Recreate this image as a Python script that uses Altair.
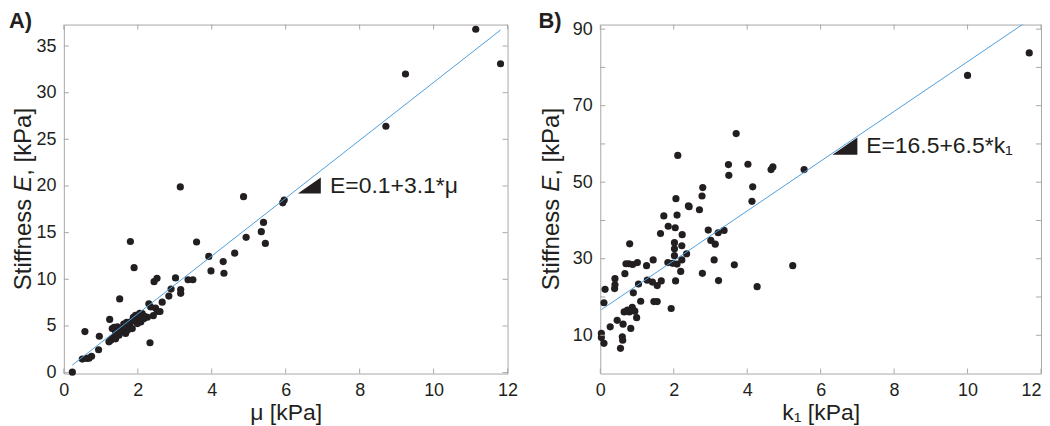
import altair as alt
import pandas as pd

# ---------------- data ----------------
mu = [0.23, 0.50, 0.62, 0.68, 0.75, 0.57, 0.94, 0.96, 1.24, 1.51, 1.80, 1.90, 2.33, 2.42,
      2.44, 2.52, 3.15, 3.02, 2.90, 2.84, 2.66, 3.16, 3.16, 3.36, 3.49, 3.59, 3.92, 3.98,
      4.31, 4.33, 4.62, 4.86, 4.93, 5.34, 5.40, 5.45, 5.92, 5.96, 8.71, 9.24, 11.14, 11.81,
      2.30, 2.35, 2.48, 2.53, 2.60, 2.12, 2.03, 1.94, 2.16, 2.08, 1.99, 1.90, 1.81, 1.76,
      1.85, 1.72, 1.67, 1.58, 1.54, 1.49, 1.40, 1.36, 1.31, 1.27, 1.22, 1.40, 1.31, 1.45,
      1.70, 1.88, 2.26, 2.05, 1.36, 1.40, 2.20, 1.62]
E_mu = [0.05, 1.45, 1.52, 1.55, 1.75, 4.40, 2.45, 3.90, 5.70, 7.90, 14.05, 11.25, 3.20, 6.10,
        9.75, 10.10, 19.90, 10.15, 8.95, 8.20, 7.55, 8.90, 8.50, 9.95, 9.95, 14.00, 12.45, 10.90,
        11.90, 10.65, 12.80, 18.85, 14.50, 15.10, 16.10, 13.85, 18.20, 18.50, 26.40, 32.00, 36.80, 33.10,
        7.38, 7.03, 6.92, 6.57, 6.55, 6.32, 5.96, 6.14, 5.78, 5.43, 5.25, 5.61, 5.43, 5.08,
        4.72, 4.55, 4.19, 4.72, 4.37, 4.01, 4.19, 3.83, 3.65, 3.48, 3.30, 4.55, 4.72, 4.90,
        5.40, 5.93, 5.93, 6.35, 4.86, 3.62, 6.00, 5.20]

k1 = [11.68, 10.00, 5.55, 5.24, 3.70, 4.02, 4.15, 4.13, 4.27, 4.65, 4.70, 3.49, 3.50, 3.37,
      3.21, 3.65, 3.22, 2.11, 2.79, 2.77, 2.70, 2.40, 2.42, 2.94, 3.01, 3.13, 3.10, 2.78,
      2.06, 2.09, 2.04, 2.23, 2.22, 2.02, 2.02, 2.02, 2.35, 2.22, 2.09, 1.97, 1.84, 2.05,
      2.19, 1.93, 1.73, 1.85, 1.64, 1.66, 1.55, 1.44, 1.26, 1.28, 1.42, 1.46, 1.55, 1.04,
      1.01, 0.88, 0.78, 0.70, 0.80, 0.67, 0.40, 0.40, 0.39, 0.13, 0.10, 0.90, 1.10, 0.99,
      0.94, 0.87, 0.79, 0.74, 0.65, 0.46, 0.27, 0.62, 0.83, 0.60, 0.61, 0.55, 0.03, 0.03, 0.10]
E_k1 = [83.8, 77.9, 53.3, 28.2, 62.7, 54.7, 48.8, 45.0, 22.7, 53.3, 54.0, 54.6, 51.8, 37.4,
        36.8, 28.4, 24.3, 57.0, 48.6, 46.4, 42.8, 43.8, 43.6, 37.5, 34.8, 33.8, 29.7, 26.2,
        45.7, 41.4, 38.1, 36.3, 33.4, 34.2, 32.6, 30.8, 31.3, 29.7, 28.6, 28.8, 29.0, 24.2,
        26.7, 17.0, 41.2, 38.5, 36.6, 24.2, 23.0, 29.7, 28.2, 24.4, 23.9, 18.8, 18.8, 23.4,
        29.0, 28.5, 28.7, 28.7, 33.9, 26.1, 24.8, 23.2, 22.2, 22.0, 18.5, 21.1, 18.9, 14.6,
        16.3, 17.3, 16.1, 16.6, 16.1, 13.9, 12.2, 12.9, 11.8, 9.6, 8.7, 6.6, 10.5, 9.4, 7.9]

fit_a = [0.1, 3.1]     # intercept, slope
fit_b = [16.5, 6.5]
eq_a = "E=0.1+3.1*μ"
eq_b = "E=16.5+6.5*k₁"
eq_pos_a = [7.2, 20.0]
eq_pos_b = [7.24, 59.4]
tri_a = [6.33, 6.95, 19.2, 20.9]   # x0, x1, y bottom, y top
tri_b = [6.32, 7.00, 57.2, 61.7]

x_ticks = [0, 2, 4, 6, 8, 10, 12]
ya_ticks = [0, 5, 10, 15, 20, 25, 30, 35]
yb_ticks = [10, 20, 30, 40, 50, 60, 70, 80, 90]
yb_labels = [10, 30, 50, 70, 90]

INK = "#231f20"
FRAME = "#a8a8a8"
LINE = "#4f9fdc"
FONT = "Liberation Sans"

# Arial advance widths (em) for title layout
ADV = {"S": .667, "t": .278, "i": .222, "f": .278, "n": .556, "e": .556, "s": .5, " ": .278,
       "E": .667, ",": .278, "[": .278, "k": .5, "P": .667, "a": .556, "]": .278}


def tw(s, fs):
    return sum(ADV.get(c, .556) for c in s) * fs


def panel(xs, ys, ydom, yticks, ylabels, fit, eq, eq_pos, tri, letter, xtitle,
          W, H, letter_x, ytitle_x, flush_last):
    xsc = alt.Scale(domain=[0, 12], nice=False, zero=False)
    ysc = alt.Scale(domain=ydom, nice=False, zero=False)
    xalign = (alt.condition("datum.value == 12", alt.value("right"), alt.value("center"))
              if flush_last else "center")
    xax = alt.Axis(values=x_ticks, ticks=False, tickSize=0, domain=False, grid=False,
                   labelFontSize=18, labelPadding=8, labelColor=INK, labelFlush=False,
                   labelAlign=xalign,
                   title=xtitle, titleFontSize=23, titleFontWeight="normal", titleColor=INK,
                   titlePadding=2, format="d")
    yax = alt.Axis(values=ylabels, ticks=False, tickSize=0, domain=False, grid=False,
                   labelFontSize=18, labelPadding=8, labelColor=INK, labelFlush=False,
                   title=None, format="d")

    def X(f="x"):
        return alt.X(f"{f}:Q", scale=xsc, axis=xax, title=xtitle)

    def Y(f="y"):
        return alt.Y(f"{f}:Q", scale=ysc, axis=yax, title=None)

    df = pd.DataFrame({"x": xs, "y": ys})
    pts = alt.Chart(df).mark_circle(size=52, color=INK, opacity=1).encode(x=X(), y=Y())

    x0, x1 = min(xs), max(xs)
    dl = pd.DataFrame({"x": [x0, x1], "y": [fit[0] + fit[1] * x0, fit[0] + fit[1] * x1]})
    line = alt.Chart(dl).mark_line(color=LINE, strokeWidth=1, clip=True).encode(x=X(), y=Y())

    dt = pd.DataFrame({"x": [tri[0], tri[1]], "y": [tri[2], tri[3]], "y2": [tri[2], tri[2]]})
    triangle = alt.Chart(dt).mark_area(color=INK, opacity=1).encode(
        x=X(), y=Y(), y2="y2:Q")

    de = pd.DataFrame({"x": [eq_pos[0]], "y": [eq_pos[1]], "t": [eq]})
    eqt = alt.Chart(de).mark_text(align="left", baseline="middle", fontSize=23, color=INK,
                                  font=FONT).encode(x=X(), y=Y(), text="t:N")

    dxt = pd.DataFrame({"x": x_ticks})
    dyt = pd.DataFrame({"y": yticks})
    tk = dict(color=FRAME, strokeWidth=1)
    t_bottom = alt.Chart(dxt).mark_rule(**tk).encode(
        x=X(), y=alt.value(H), y2=alt.value(H - 5))
    t_top = alt.Chart(dxt).mark_rule(**tk).encode(
        x=X(), y=alt.value(0), y2=alt.value(5))
    t_left = alt.Chart(dyt).mark_rule(**tk).encode(
        y=Y(), x=alt.value(0), x2=alt.value(5))
    t_right = alt.Chart(dyt).mark_rule(**tk).encode(
        y=Y(), x=alt.value(W), x2=alt.value(W - 5))

    lab = alt.Chart(pd.DataFrame({"t": [letter]})).mark_text(
        align="left", baseline="alphabetic", fontSize=22, fontWeight="bold", color=INK,
        font=FONT).encode(text="t:N", x=alt.value(letter_x), y=alt.value(3))

    # y-axis title with italic E, drawn as three rotated pieces
    fs = 24
    p1, p2, p3 = "Stiffness ", "E", ", [kPa]"
    total = tw(p1, fs) + tw(p2, fs) + tw(p3, fs)
    ybot = H / 2 + total / 2
    pieces = []
    off = 0
    for txt, style in [(p1, "normal"), (p2, "italic"), (p3, "normal")]:
        pieces.append(alt.Chart(pd.DataFrame({"t": [txt]})).mark_text(
            align="left", baseline="alphabetic", angle=270, fontSize=fs, fontStyle=style,
            color=INK, font=FONT).encode(
            text="t:N", x=alt.value(ytitle_x), y=alt.value(ybot - off)))
        off += tw(txt, fs)

    return alt.layer(pts, line, triangle, eqt, t_bottom, t_top, t_left, t_right, lab,
                     *pieces).properties(width=W, height=H)


left = panel(mu, E_mu, [-0.1, 37.3], ya_ticks, ya_ticks, fit_a, eq_a, eq_pos_a, tri_a, "A)",
             "μ [kPa]", 445, 350, -55, -33, False)
right = panel(k1, E_k1, [0, 91.2], yb_ticks, yb_labels, fit_b, eq_b, eq_pos_b, tri_b, "B)",
              "k₁ [kPa]", 442, 350, -62, -41, True)

chart = alt.hconcat(left, right, spacing=19).properties(padding=0).configure(
    font=FONT).configure_view(stroke=FRAME, strokeWidth=1)

chart.save("out.html", embed_options={"renderer": "svg", "actions": False})
